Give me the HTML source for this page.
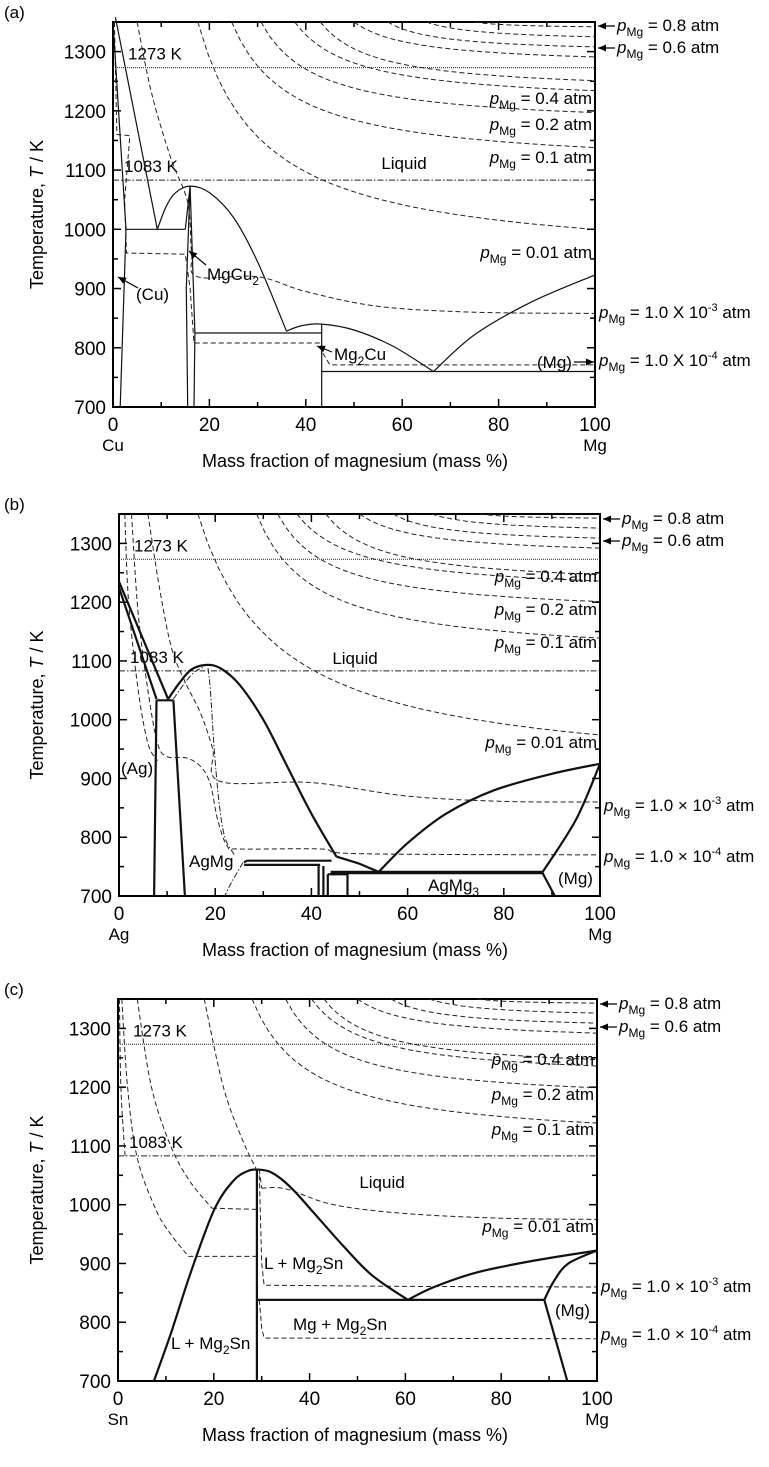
<!DOCTYPE html>
<html><head><meta charset="utf-8"><style>
html,body{margin:0;padding:0;background:#fff;}
svg{display:block;font-family:"Liberation Sans",Arial,sans-serif;}
</style></head><body>
<svg id="s" width="769" height="1467" viewBox="0 0 769 1467" xmlns="http://www.w3.org/2000/svg"></svg>
<script>
var out=[];
function mk(P){
  P.X=function(x){return P.x0+x/100*(P.x1-P.x0);};
  P.Y=function(T){return P.top+(1350-T)/650*(P.bot-P.top);};
  return P;
}
function pl(P,pts,st){var d=pts.map(function(p,i){return (i?'L':'M')+P.X(p[0]).toFixed(1)+','+P.Y(p[1]).toFixed(1);}).join('');
  out.push('<path d="'+d+'" fill="none" '+st+'/>');}
function sm(P,pts,st){
  var q=pts.map(function(p){return [P.X(p[0]),P.Y(p[1])];});
  var d='M'+q[0][0].toFixed(1)+','+q[0][1].toFixed(1);
  for(var i=0;i<q.length-1;i++){
    var p0=q[i-1]||q[i],p1=q[i],p2=q[i+1],p3=q[i+2]||q[i+1];
    var c1=[p1[0]+(p2[0]-p0[0])/6,p1[1]+(p2[1]-p0[1])/6];
    var c2=[p2[0]-(p3[0]-p1[0])/6,p2[1]-(p3[1]-p1[1])/6];
    d+='C'+c1[0].toFixed(1)+','+c1[1].toFixed(1)+' '+c2[0].toFixed(1)+','+c2[1].toFixed(1)+' '+p2[0].toFixed(1)+','+p2[1].toFixed(1);
  }
  out.push('<path d="'+d+'" fill="none" '+st+'/>');
}
function seg(xa,Ta,xb,Tb,k){var r=[];for(var i=0;i<=40;i++){var u=i/40;var f=(1-u)/(1+k*u);r.push([xa+(xb-xa)*u,Tb+(Ta-Tb)*f]);}return r;}
var DASH='stroke="#222" stroke-width="1" stroke-dasharray="5,3"';
var DASHDOT='stroke="#222" stroke-width="1" stroke-dasharray="6,2,1.5,2"';
var THIN='stroke="#111" stroke-width="1.2" stroke-linejoin="round"';
var THICK='stroke="#111" stroke-width="2.2" stroke-linejoin="round"';
var FS=17;
function frame(P,lab,left){
  var X=P.X,Y=P.Y;
  out.push('<rect x="'+P.x0+'" y="'+P.top+'" width="'+(P.x1-P.x0)+'" height="'+(P.bot-P.top)+'" fill="none" stroke="#000" stroke-width="2"/>');
  for(var x=0;x<=100;x+=10){var L=x%20==0?8:5;var px=X(x);
    out.push('<line x1="'+px+'" y1="'+P.bot+'" x2="'+px+'" y2="'+(P.bot-L)+'" stroke="#000" stroke-width="1.5"/>');
    out.push('<line x1="'+px+'" y1="'+P.top+'" x2="'+px+'" y2="'+(P.top+L)+'" stroke="#000" stroke-width="1.5"/>');
    if(x%20==0)out.push('<text x="'+px+'" y="'+(P.bot+24)+'" font-size="19" text-anchor="middle">'+x+'</text>');}
  for(var T=700;T<=1350;T+=50){var L=T%100==0?8:5;var py=Y(T);
    out.push('<line x1="'+P.x0+'" y1="'+py+'" x2="'+(P.x0+L)+'" y2="'+py+'" stroke="#000" stroke-width="1.5"/>');
    out.push('<line x1="'+P.x1+'" y1="'+py+'" x2="'+(P.x1-L)+'" y2="'+py+'" stroke="#000" stroke-width="1.5"/>');
    if(T%100==0)out.push('<text x="'+(P.x0-7)+'" y="'+(py+7)+'" font-size="19" text-anchor="end">'+T+'</text>');}
  out.push('<text x="'+P.x0+'" y="'+(P.bot+44)+'" font-size="17" text-anchor="middle">'+left+'</text>');
  out.push('<text x="'+P.x1+'" y="'+(P.bot+44)+'" font-size="17" text-anchor="middle">Mg</text>');
  out.push('<text x="355" y="'+(P.bot+60)+'" font-size="18" text-anchor="middle">Mass fraction of magnesium (mass %)</text>');
  var my=(P.top+P.bot)/2;
  out.push('<text transform="translate(43,'+my+') rotate(-90)" font-size="18" text-anchor="middle">Temperature, <tspan font-style="italic">T</tspan> / K</text>');
  out.push('<text x="4" y="'+(P.top-4)+'" font-size="17">'+lab+'</text>');
  out.push('<line x1="'+P.x0+'" y1="'+Y(1273)+'" x2="'+P.x1+'" y2="'+Y(1273)+'" stroke="#222" stroke-width="1" stroke-dasharray="1,1"/>');
  out.push('<line x1="'+P.x0+'" y1="'+Y(1083)+'" x2="'+P.x1+'" y2="'+Y(1083)+'" '+DASHDOT+'/>');
  out.push('<text x="'+(P.x0+15)+'" y="'+(Y(1273)-8)+'" font-size="'+FS+'">1273 K</text>');
  out.push('<text x="'+(P.x0+11)+'" y="'+(Y(1083)-8)+'" font-size="'+FS+'">1083 K</text>');
}
function pm(x,y,val,exp,anchor){
  var s='<text x="'+x+'" y="'+y+'" font-size="'+FS+'"'+(anchor?' text-anchor="end"':'')+'><tspan font-style="italic">p</tspan><tspan font-size="12" dy="5">Mg</tspan><tspan dy="-5"> = '+val;
  if(exp)s+='10</tspan><tspan font-size="11" dy="-7">'+exp+'</tspan><tspan dy="7"> atm</tspan></text>';
  else s+=' atm</tspan></text>';
  out.push(s);
}
function arrow(x1,y1,x2,y2){
  out.push('<line x1="'+x1+'" y1="'+y1+'" x2="'+x2+'" y2="'+y2+'" stroke="#000" stroke-width="1.2"/>');
  var a=Math.atan2(y2-y1,x2-x1),L=8,w=3.5;
  var bx=x2-L*Math.cos(a),by=y2-L*Math.sin(a);
  out.push('<polygon points="'+x2+','+y2+' '+(bx-w*Math.sin(a))+','+(by+w*Math.cos(a))+' '+(bx+w*Math.sin(a))+','+(by-w*Math.cos(a))+'" fill="#000"/>');
}
function rightLabels(P,ys,sc){
  var xr=P.x1;
  arrow(xr+20,ys[0],xr+3,ys[0]);pm(xr+22,ys[0]+5,'0.8');
  arrow(xr+20,ys[1],xr+3,ys[1]);pm(xr+22,ys[1]+5,'0.6');
  pm(xr-3,ys[2],'0.4',null,1);
  pm(xr-3,ys[3],'0.2',null,1);
  pm(xr-3,ys[4],'0.1',null,1);
  pm(xr-3,ys[5],'0.01',null,1);
  pm(xr+4,ys[6],sc?'1.0 \u00d7 ':'1.0 X ','-3');
  pm(xr+4,ys[7],sc?'1.0 \u00d7 ':'1.0 X ','-4');
}
function upper(P,list){list.forEach(function(c){pl(P,seg(c[0],1350,100,c[1],c[2]||5),DASH);});}

// ---------- Panel A ----------
var A=mk({x0:113,x1:595,top:22,bot:407});
frame(A,'(a)','Cu');
upper(A,[[75,1342,3],[65,1325,3],[57,1308,4],[50,1291,4],[43,1251,5],[37.7,1234,5],[30.7,1197,6],[24.6,1138,6],[17.6,1000,6]]);
sm(A,[[5,1350],[8,1230],[12,1120],[15.5,1045],[16.3,960],[17.5,920],[30,920],[40,895],[55,870],[75,860],[100,858]],DASH);
pl(A,[[0.3,1350],[0.8,1160],[3.5,1158],[2.4,1050],[2.8,960],[15,958],[16,900],[16.8,808],[43,808],[43.6,790],[45,771],[100,771]],DASH);
pl(A,[[0.5,1358],[9.2,1000]],THIN);
sm(A,[[9.2,1000],[11,1038],[13,1062],[16,1073],[20,1062],[25,1020],[30,945],[36,828]],THIN);
sm(A,[[36,828],[39,837],[43.3,840],[50,830],[58,803],[66.5,760]],THIN);
sm(A,[[66.5,760],[75,822],[87,878],[100,923]],THIN);
pl(A,[[0,1350],[2.7,1000],[1.5,700]],THIN);
pl(A,[[2.7,1000],[15,1000]],THIN);
pl(A,[[15,1000],[16,1073],[17,825],[16.8,700]],THIN);
pl(A,[[16,1073],[15.2,900],[15.5,700]],THIN);
pl(A,[[17,825],[43.3,825]],THIN);
pl(A,[[43.3,840],[43.3,700]],THIN);
pl(A,[[43.3,760],[100,760]],THIN);
out.push('<text x="404" y="169" font-size="'+FS+'" text-anchor="middle">Liquid</text>');
out.push('<text x="136" y="300" font-size="'+FS+'">(Cu)</text>');arrow(138,288,118,277);
out.push('<text x="207" y="280" font-size="'+FS+'">MgCu<tspan font-size="12" dy="5">2</tspan></text>');arrow(206,265,189,251);
out.push('<text x="334" y="360" font-size="'+FS+'">Mg<tspan font-size="12" dy="5">2</tspan><tspan dy="-5">Cu</tspan></text>');arrow(332,352,317,346);
out.push('<text x="537" y="368" font-size="'+FS+'">(Mg)</text>');arrow(574,362,594,362);
rightLabels(A,[26,48,104,130,163,258,318,366],false);

// ---------- Panel B ----------
var B=mk({x0:119,x1:600,top:514,bot:896});
frame(B,'(b)','Ag');
upper(B,[[75,1343,3],[65,1326,3],[57,1309,4],[50,1292,4],[43,1247,5],[37,1236,5],[33,1201,6],[28.6,1139,6]]);
pl(B,seg(16.4,1350,100,974,5),DASH);
sm(B,[[6,1350],[8.5,1220],[11,1120],[14,1060],[17,1010],[19.5,950],[21,895],[40,893],[60,870],[80,861],[100,860]],DASH);
sm(B,[[2.6,1350],[4,1180],[6,1050],[8,960],[10,937],[14,935],[17,920],[19,890],[20.5,830],[22.5,785],[25,780],[42,780],[50,772],[100,770]],DASH);
sm(B,[[1.2,1350],[2,1200],[4,1050],[6,960],[8,930]],DASH);
pl(B,[[0,1235],[10.2,1035]],THICK);
pl(B,[[0,1225],[7.8,1035]],THICK);
pl(B,[[7.8,1033],[11.3,1033]],THICK);
pl(B,[[7.8,1033],[7.3,700]],THICK);
pl(B,[[11.3,1033],[13.7,700]],THICK);
sm(B,[[10.2,1035],[12.5,1062],[15,1085],[18,1093],[21,1088],[25,1060],[30,1000],[35,920],[40,840],[45.2,767]],THICK);
pl(B,[[45.2,767],[50,755],[54,741]],THICK);
sm(B,[[54,741],[60,790],[68,840],[78,880],[90,908],[100,925]],THICK);
pl(B,[[44,740],[88,740]],'stroke="#111" stroke-width="3.5"');
sm(B,[[88,740],[95,830],[100,925]],THICK);
pl(B,[[88,740],[90.6,700]],THICK);
pl(B,[[26.5,760],[44.2,760]],THICK);
pl(B,[[26,757],[26.5,760]],THICK);
pl(B,[[26,753],[41.8,753]],THICK);
pl(B,[[41.5,751],[41.5,700]],THICK);
pl(B,[[42.5,751],[42.5,700]],THICK);
pl(B,[[43.4,737],[47.5,737],[47.5,700]],THICK);
pl(B,[[43.4,737],[43.4,700]],THICK);
sm(B,[[11.3,1035],[13,1055],[15.5,1080],[17.8,1090]],DASHDOT);
sm(B,[[18.5,1088],[19,1050],[19.8,950],[20.8,860],[22,800],[24,770]],DASHDOT);
sm(B,[[25.8,757],[23.5,725],[22,700]],DASHDOT);
out.push('<text x="355" y="664" font-size="'+FS+'" text-anchor="middle">Liquid</text>');
out.push('<text x="121" y="774" font-size="'+FS+'">(Ag)</text>');
out.push('<text x="189" y="867" font-size="'+FS+'">AgMg</text>');
out.push('<text x="428" y="891" font-size="'+FS+'">AgMg<tspan font-size="12" dy="5">3</tspan></text>');
out.push('<text x="558" y="884" font-size="'+FS+'">(Mg)</text>');
rightLabels(B,[519,541,582,615,648,748,811,862],true);

// ---------- Panel C ----------
var C=mk({x0:118,x1:597,top:999,bot:1381});
frame(C,'(c)','Sn');
upper(C,[[75,1343,3],[65,1326,3],[57,1309,4],[50,1292,4],[43,1247,5],[40.4,1236,5],[35,1199,6],[28,1139,6]]);
sm(C,[[18,1350],[22,1200],[26,1110],[28.8,1062]],DASH);
sm(C,[[30,1028],[35,1027],[45,1000],[60,985],[80,977],[100,975]],DASH);
pl(C,[[29.5,1060],[30,1028]],DASH);
sm(C,[[4,1350],[7,1200],[11,1100],[15,1040],[19.6,994]],DASH);
pl(C,[[19.6,994],[29,992]],DASH);
sm(C,[[0.8,1350],[2,1200],[4,1080],[8,990],[11,950],[14.7,912]],DASH);
pl(C,[[14.7,912],[29,912]],DASH);
pl(C,[[29.5,1050],[30,900],[30.5,863],[60,861],[100,860]],DASH);
sm(C,[[0.3,1350],[0.6,1200],[1.5,1080]],DASH);
pl(C,[[29.5,838],[30,790],[30.5,773],[100,772]],DASH);
sm(C,[[7.5,700],[11,780],[15,880],[20,990],[24,1040],[27,1057],[29,1060]],THICK);
pl(C,[[29,1060],[29,700]],THICK);
sm(C,[[29,1060],[32,1055],[36,1030],[41,985],[47,930],[53,880],[60.5,838]],THICK);
sm(C,[[60.5,838],[66,860],[75,885],[87,905],[100,922]],THICK);
pl(C,[[29,838],[89,838]],THICK);
sm(C,[[89,838],[91,870],[94,900],[100,922]],THICK);
pl(C,[[89,838],[93.8,700]],THICK);
out.push('<text x="382" y="1188" font-size="'+FS+'" text-anchor="middle">Liquid</text>');
out.push('<text x="264" y="1269" font-size="'+FS+'">L + Mg<tspan font-size="12" dy="5">2</tspan><tspan dy="-5">Sn</tspan></text>');
out.push('<text x="340" y="1330" font-size="'+FS+'" text-anchor="middle">Mg + Mg<tspan font-size="12" dy="5">2</tspan><tspan dy="-5">Sn</tspan></text>');
out.push('<text x="171" y="1349" font-size="'+FS+'">L + Mg<tspan font-size="12" dy="5">2</tspan><tspan dy="-5">Sn</tspan></text>');
out.push('<text x="555" y="1316" font-size="'+FS+'">(Mg)</text>');
rightLabels(C,[1004,1027,1065,1100,1135,1232,1292,1340],true);

document.getElementById('s').innerHTML=out.join('');
</script>
</body></html>
